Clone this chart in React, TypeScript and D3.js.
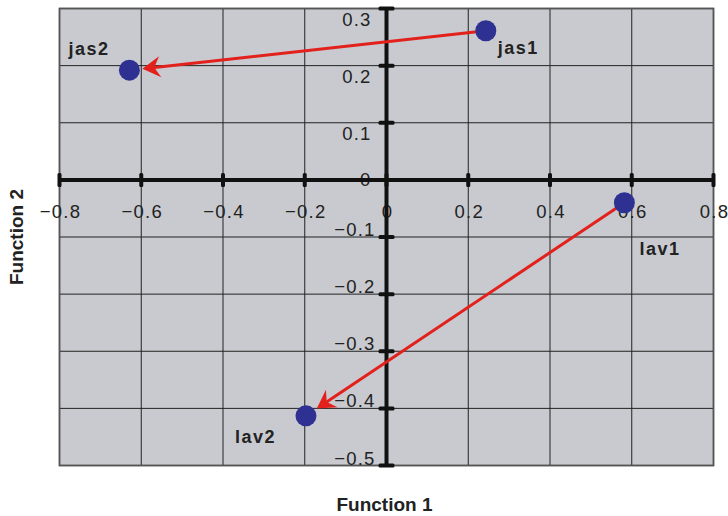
import React from 'react';
import * as d3 from 'd3';

const xTicks = [-0.8, -0.6, -0.4, -0.2, 0, 0.2, 0.4, 0.6, 0.8];
const yTicks = [0.3, 0.2, 0.1, 0, -0.1, -0.2, -0.3, -0.4, -0.5];

const pointNames = ['jas1', 'jas2', 'lav1', 'lav2'];
const pointX = [0.243, -0.629, 0.582, -0.197];
const pointY = [0.261, 0.192, -0.04, -0.413];

const arrowFrom = ['jas1', 'lav1'];
const arrowTo = ['jas2', 'lav2'];

// label placement relative to the point, in px
const labelOffsets = {
  jas1: [12, 23],
  jas2: [-61, -15],
  lav1: [15, 52],
  lav2: [-71, 27],
};

const W = 728;
const H = 516;
const margin = { top: 8.5, right: 14.5, bottom: 50.5, left: 59.5 };
const FONT = "Helvetica, Arial, 'Liberation Sans', sans-serif";
const RED = '#e3211c';
const BLUE = '#2e3192';
const R = 10.5;

const fmt = (v: number) => {
  if (v === 0) return '0';
  const s = Math.abs(v).toFixed(1);
  return v < 0 ? '\u2212' + s : s;
};

const App = () => {
  const x = d3.scaleLinear().domain([-0.8, 0.8]).range([margin.left, W - margin.right]);
  const y = d3.scaleLinear().domain([-0.5, 0.3]).range([H - margin.bottom, margin.top]);

  const x0 = x(0);
  const y0 = y(0);
  const left = x(-0.8), right = x(0.8), top = y(0.3), bottom = y(-0.5);

  const pts = pointNames.map((n, i) => ({ name: n, cx: x(pointX[i]), cy: y(pointY[i]) }));
  const byName = (n: string) => pts.find(p => p.name === n)!;

  const arrows = arrowFrom.map((f, i) => {
    const a = byName(f);
    const b = byName(arrowTo[i]);
    const dx = b.cx - a.cx, dy = b.cy - a.cy;
    const len = Math.hypot(dx, dy);
    const ux = dx / len, uy = dy / len;
    const tipX = b.cx - ux * (R + 2.5);
    const tipY = b.cy - uy * (R + 2.5);
    const ang = (Math.atan2(uy, ux) * 180) / Math.PI;
    return { x1: a.cx, y1: a.cy, x2: tipX - ux * 10, y2: tipY - uy * 10, tipX, tipY, ang };
  });

  return (
    <svg width={W} height={H} style={{ position: 'absolute', left: 0, top: 0 }} fontFamily={FONT}>
      <rect x={left} y={top} width={right - left} height={bottom - top} fill="#c8cacf" stroke="#555" strokeWidth={1.5} />

      {/* grid */}
      {xTicks.map(t => (
        <line key={'gx' + t} x1={x(t)} x2={x(t)} y1={top} y2={bottom} stroke="#222" strokeWidth={1} />
      ))}
      {yTicks.map(t => (
        <line key={'gy' + t} x1={left} x2={right} y1={y(t)} y2={y(t)} stroke="#222" strokeWidth={1} />
      ))}
      <rect x={left} y={top} width={right - left} height={bottom - top} fill="none" stroke="#555" strokeWidth={1.5} />

      {/* tick labels */}
      {xTicks.map(t => (
        <text key={'lx' + t} x={x(t) + 1} y={y0 + 38} textAnchor="middle" fontSize={18.5} letterSpacing={1.2} fill="#222">
          {fmt(t)}
        </text>
      ))}
      {yTicks.map(t => (
        <text
          key={'ly' + t}
          x={t < 0 ? x0 - 11 : x0 - 15}
          y={t > 0 ? y(t) + 17 : t === 0 ? y(t) + 6 : y(t) - 1}
          textAnchor="end"
          fontSize={18.5}
          letterSpacing={1.2}
          fill="#222"
        >
          {fmt(t)}
        </text>
      ))}

      {/* axes */}
      <line x1={left} x2={right} y1={y0} y2={y0} stroke="#111" strokeWidth={4} />
      <line x1={x0} x2={x0} y1={top} y2={bottom} stroke="#111" strokeWidth={4} />
      {xTicks.map(t => (
        <rect key={'tx' + t} x={x(t) - 2} y={y0 - 7} width={4} height={14} rx={1.5} fill="#111" />
      ))}
      {yTicks.map(t => (
        <rect key={'ty' + t} x={x0 - 8} y={y(t) - 2} width={16} height={4} rx={1.5} fill="#111" />
      ))}

      {/* arrows */}
      {arrows.map((a, i) => (
        <g key={'ar' + i}>
          <line x1={a.x1} y1={a.y1} x2={a.x2} y2={a.y2} stroke={RED} strokeWidth={3} />
          <path
            d="M0,0 L-18,-10.5 L-12,0 L-18,10.5 Z"
            fill={RED}
            transform={`translate(${a.tipX},${a.tipY}) rotate(${a.ang})`}
          />
        </g>
      ))}

      {/* points */}
      {pts.map(p => (
        <circle key={p.name} cx={p.cx} cy={p.cy} r={R} fill={BLUE} />
      ))}
      {pts.map(p => {
        const [dx, dy] = labelOffsets[p.name as keyof typeof labelOffsets];
        return (
          <text key={'t' + p.name} x={p.cx + dx} y={p.cy + dy} fontSize={18} fontWeight="bold" letterSpacing={1.5} fill="#222">
            {p.name}
          </text>
        );
      })}

      {/* axis titles */}
      <text x={x0 - 2} y={511} textAnchor="middle" fontSize={19} fontWeight="bold" fill="#222">
        Function 1
      </text>
      <text transform={`translate(23,237) rotate(-90)`} textAnchor="middle" fontSize={19} fontWeight="bold" fill="#222">
        Function 2
      </text>
    </svg>
  );
};

export default App;
